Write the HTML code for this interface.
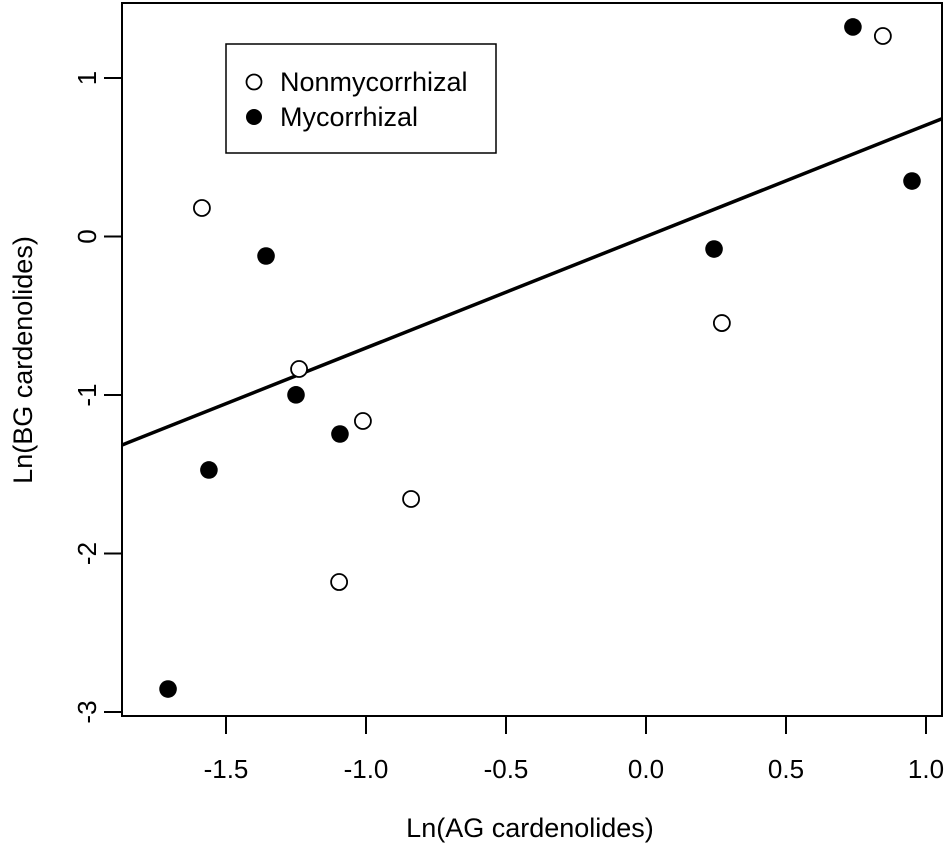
<!DOCTYPE html>
<html><head><meta charset="utf-8"><style>
body{margin:0;background:#fff}
svg text{font-family:"Liberation Sans",Arial,sans-serif;fill:#000}
</style></head><body>
<svg id="chart" width="945" height="860" xmlns="http://www.w3.org/2000/svg">
<rect x="122" y="3" width="820" height="713" fill="none" stroke="#000" stroke-width="2"/>
<g id="xaxis"></g>
<g id="yaxis"></g>
<line id="fit" stroke="#000" stroke-width="3.5"/>
<g id="pts"></g>
<text x="530" y="837" font-size="27" text-anchor="middle">Ln(AG cardenolides)</text>
<text transform="translate(32,360) rotate(-90)" font-size="27" text-anchor="middle">Ln(BG cardenolides)</text>
<g>
<rect x="226" y="44" width="270" height="109" fill="#fff" stroke="#000" stroke-width="1.5"/>
<circle cx="254" cy="82" r="7.5" fill="#fff" stroke="#000" stroke-width="1.8"/>
<text x="280" y="91" font-size="27">Nonmycorrhizal</text>
<circle cx="254" cy="117" r="8" fill="#000"/>
<text x="280" y="126" font-size="27">Mycorrhizal</text>
</g>
</svg>
<script>
const xTicks=[-1.5,-1.0,-0.5,0.0,0.5,1.0];
const xTickLabels=["-1.5","-1.0","-0.5","0.0","0.5","1.0"];
const yTicks=[-3,-2,-1,0,1];
const yTickLabels=["-3","-2","-1","0","1"];
const openX=[-1.586,-1.239,-1.011,-0.839,-1.096,0.271,0.846];
const openY=[0.18,-0.836,-1.164,-1.656,-2.18,-0.546,1.265];
const fillX=[0.739,0.95,0.243,-1.357,-1.25,-1.093,-1.561,-1.707];
const fillY=[1.322,0.35,-0.079,-0.123,-0.999,-1.246,-1.473,-2.855];
const fitSlope=0.703, fitIntercept=0.0;
const X0=-1.871,X1=1.057;
const sx=v=>646+v*280, sy=v=>236.5-v*158.5;
const NS="http://www.w3.org/2000/svg";
function mk(t,a,p){const e=document.createElementNS(NS,t);for(const k in a)e.setAttribute(k,a[k]);p.appendChild(e);return e;}
const xa=document.getElementById('xaxis'),ya=document.getElementById('yaxis'),pts=document.getElementById('pts');
xTicks.forEach((v,i)=>{
 const t=mk('line',{x1:sx(v),x2:sx(v),y1:716,y2:734,stroke:'#000','stroke-width':2},xa);
 
 
 const l=mk('text',{x:sx(v),y:778,'font-size':26,'text-anchor':'middle'},xa);
 l.textContent=xTickLabels[i];
 
 
});
yTicks.forEach((v,i)=>{
 const t=mk('line',{x1:104,x2:122,y1:sy(v),y2:sy(v),stroke:'#000','stroke-width':2},ya);
 
 
 const l=mk('text',{transform:`translate(96,${sy(v)}) rotate(-90)`,'font-size':26,'text-anchor':'middle'},ya);
 l.textContent=yTickLabels[i];
 
 
});
const f=document.getElementById('fit');
f.setAttribute('x1',sx(X0));f.setAttribute('y1',sy(fitIntercept+fitSlope*X0));
f.setAttribute('x2',sx(X1));f.setAttribute('y2',sy(fitIntercept+fitSlope*X1));
openX.forEach((v,i)=>{
 const c=mk('circle',{cx:sx(v),cy:sy(openY[i]),r:8,fill:'#fff',stroke:'#000','stroke-width':1.8},pts);
 
 
});
fillX.forEach((v,i)=>{
 const c=mk('circle',{cx:sx(v),cy:sy(fillY[i]),r:8.8,fill:'#000'},pts);
 
 
});
</script>
</body></html>
